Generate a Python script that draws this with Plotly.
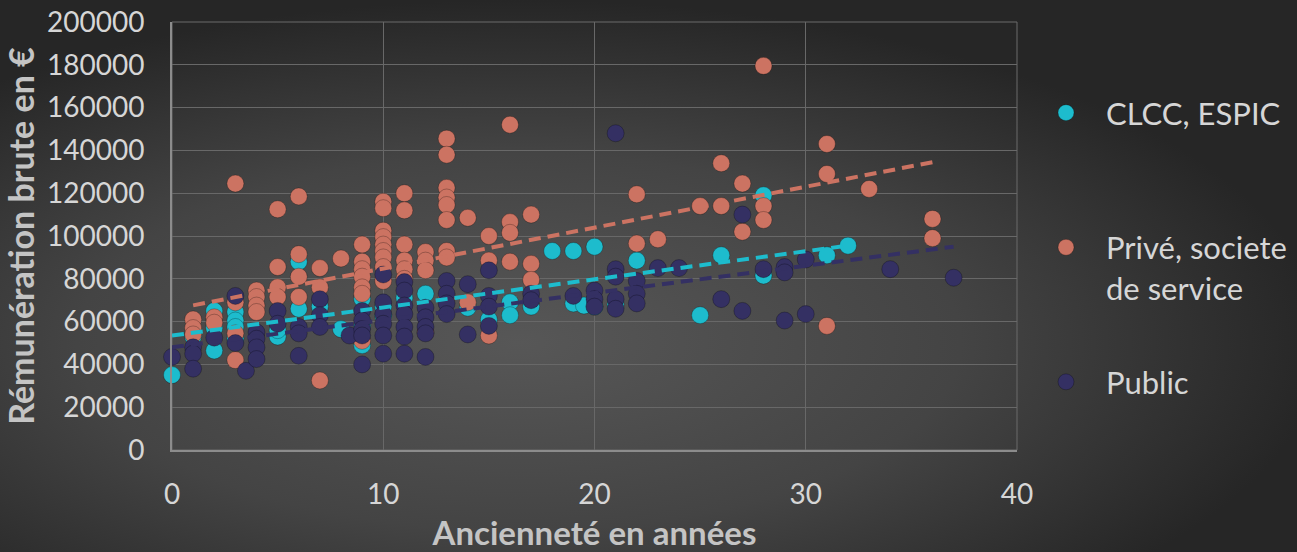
import base64
import plotly.graph_objects as go

# ---------------- data ----------------
clcc_x = [0, 1, 2, 2, 2, 3, 3, 3, 3, 5, 5, 6, 6, 7, 8, 9, 9, 9, 10, 10, 11, 12,
          14, 15, 16, 16, 17, 18, 19, 19, 19.5, 20, 20, 21, 22, 25, 26, 28, 28, 31, 32]
clcc_y = [35000, 53000, 65000, 57000, 46500, 64500, 60500, 57500, 52000, 53000, 56000,
          88000, 66000, 67000, 56500, 70700, 58000, 49000, 63000, 67000, 71000, 73000,
          66500, 61000, 69000, 63000, 67000, 93000, 93000, 68500, 67500, 95000, 67000,
          68000, 88500, 63000, 91000, 119000, 81500, 91000, 95500]

prive_x = [1, 1, 1, 2, 2, 3, 3, 3, 3, 4, 4, 4, 4, 5, 5, 5, 5, 6, 6, 6, 6, 7, 7, 7, 8,
           9, 9, 9, 9, 9, 9, 9, 10, 10, 10, 10, 10, 10, 10, 10, 10,
           11, 11, 11, 11, 11, 11, 12, 12, 12, 12,
           13, 13, 13, 13, 13, 13, 13, 13, 13, 14, 14, 15, 15, 15, 16, 16, 16, 16,
           17, 17, 17, 22, 22, 23, 25, 26, 26, 27, 27, 28, 28, 28, 31, 31, 31, 33, 36, 36]
prive_y = [61000, 57000, 54000, 62000, 59500, 124500, 69000, 54500, 42000,
           74500, 71500, 67500, 64500, 112500, 85500, 76000, 71500,
           118500, 91500, 81000, 71500, 85000, 76000, 32500, 89500,
           96000, 88000, 84500, 81000, 76000, 73000, 51000,
           116000, 113000, 102500, 99500, 96000, 93000, 90000, 85500, 79000,
           120000, 112000, 96000, 88500, 84500, 80000, 92500, 88500, 84000, 55000,
           145500, 138000, 122500, 118000, 114500, 107500, 93000, 90000, 71500,
           108500, 69000, 100000, 88500, 53500, 152000, 106500, 101500, 88000,
           110000, 87000, 79500, 119500, 96500, 98500, 114000, 134000, 114000,
           124500, 102000, 179500, 114000, 107500, 143000, 129000, 58000, 122000,
           108000, 99000]

public_x = [0, 1, 1, 1, 2, 3, 3, 3.5, 4, 4, 4, 4, 5, 5, 6, 6, 6, 7, 7, 7, 8.4,
            9, 9, 9, 9, 9, 10, 10, 10, 10, 10, 10, 11, 11, 11, 11, 11, 11, 11,
            12, 12, 12, 12, 12, 13, 13, 13, 13, 14, 14, 15, 15, 15, 15, 17, 17,
            19, 20, 20, 20, 21, 21, 21, 21, 21, 22, 22, 22, 23, 24, 26, 27, 27,
            28, 29, 29, 29, 30, 30, 34, 37]
public_y = [43500, 48000, 45000, 38000, 52500, 72000, 50000, 37000,
            55000, 52000, 48000, 42500, 65000, 59000, 57500, 54500, 44000,
            70500, 63000, 57500, 53500,
            65000, 60500, 56500, 53500, 40000,
            82000, 69000, 63500, 59000, 53500, 45000,
            78500, 74500, 67500, 63500, 57500, 53000, 45000,
            66500, 62000, 57500, 54500, 43500,
            79000, 73000, 68500, 63500, 77500, 54000,
            84000, 72000, 67000, 58000, 73000, 70000,
            72000, 74500, 70500, 67000, 148000, 84500, 81000, 70500, 66000,
            79000, 73000, 68500, 85000, 85000, 70500, 110000, 65000,
            84500, 85500, 83000, 60500, 89000, 63500, 84500, 80500]

# trend lines (end points)
trend_clcc_x = [0, 32]
trend_clcc_y = [53500, 95500]
trend_prive_x = [1, 36]
trend_prive_y = [67600, 134500]
trend_public_x = [0, 37]
trend_public_y = [48000, 95000]

series_names = ["CLCC, ESPIC<br> ", "Privé, societe<br>de service", "Public"]
x_ticks = [0, 10, 20, 30, 40]
y_ticks = list(range(0, 200001, 20000))

# ---------------- style ----------------
C_CLCC = "#1dbccd"
C_PRIVE = "#cc7362"
C_PUBLIC = "#343063"
FONT = "Lato"
W, H = 1297, 552
ML, MR, MT, MB = 172, 280, 22, 102
PW, PH = W - ML - MR, H - MT - MB

svg = f"""<svg xmlns='http://www.w3.org/2000/svg' width='{W}' height='{H}' viewBox='0 0 {W} {H}' preserveAspectRatio='none'>
<defs><radialGradient id='g' cx='0.40' cy='0.62' r='0.62' gradientUnits='objectBoundingBox'>
<stop offset='0' stop-color='#575757'/><stop offset='0.55' stop-color='#444444'/><stop offset='1' stop-color='#262626'/>
</radialGradient></defs><rect x='0' y='0' width='{W}' height='{H}' fill='url(#g)'/></svg>"""
bg_uri = "data:image/svg+xml;base64," + base64.b64encode(svg.encode()).decode()

fig = go.Figure()

def add_points(xs, ys, color, name, group):
    fig.add_trace(go.Scatter(
        x=xs, y=ys, mode="markers", name=name, legendgroup=group,
        cliponaxis=False,
        marker=dict(size=17, color=color,
                    line=dict(width=1, color="rgba(0,0,0,0.25)")),
    ))

add_points(clcc_x, clcc_y, C_CLCC, series_names[0], "a")
add_points(prive_x, prive_y, C_PRIVE, series_names[1], "b")
add_points(public_x, public_y, C_PUBLIC, series_names[2], "c")

for tx, ty, col in [(trend_clcc_x, trend_clcc_y, C_CLCC),
                    (trend_prive_x, trend_prive_y, C_PRIVE),
                    (trend_public_x, trend_public_y, C_PUBLIC)]:
    fig.add_trace(go.Scatter(x=tx, y=ty, mode="lines", showlegend=False,
                             hoverinfo="skip", cliponaxis=False,
                             line=dict(color=col, width=4, dash="12px,7px")))

fig.update_layout(
    width=W, height=H,
    margin=dict(l=ML, r=MR, t=MT, b=MB, pad=0, autoexpand=False),
    paper_bgcolor="#333333",
    plot_bgcolor="rgba(0,0,0,0)",
    font=dict(family=FONT, color="#d6d6d6", size=28),
    images=[dict(source=bg_uri, xref="paper", yref="paper",
                 x=-ML / PW, y=1 + MT / PH, sizex=W / PW, sizey=H / PH,
                 xanchor="left", yanchor="top", sizing="stretch", layer="below")],
    legend=dict(xref="container", yref="container", x=1026 / W, y=1 - 86 / H,
                xanchor="left", yanchor="top", bgcolor="rgba(0,0,0,0)",
                font=dict(family=FONT, size=31, color="#d6d6d6"),
                tracegroupgap=51, valign="top", itemwidth=70, maxheight=1),
    showlegend=True,
)

fig.update_xaxes(
    range=[0, 40], tickvals=x_ticks, ticktext=[str(v) for v in x_ticks],
    showgrid=True, gridcolor="#686868", gridwidth=1,
    showline=True, linecolor="#8c8c8c", linewidth=2, mirror=False,
    zeroline=False, ticks="", ticklabelstandoff=18,
    tickfont=dict(family=FONT, size=28, color="#d6d6d6"),
    title=dict(text="<b>Ancienneté en années</b>", standoff=22,
               font=dict(family=FONT, size=33, color="#c4c4c4")),
)
fig.update_yaxes(
    range=[0, 200000], tickvals=y_ticks, ticktext=[str(v) for v in y_ticks],
    showgrid=True, gridcolor="#686868", gridwidth=1,
    showline=True, linecolor="#8c8c8c", linewidth=2,
    zeroline=False, ticks="", ticklabelstandoff=20,
    tickfont=dict(family=FONT, size=28, color="#d6d6d6"),
    title=dict(text="<b>Rémunération brute en €</b>", standoff=10,
               font=dict(family=FONT, size=34, color="#c4c4c4")),
)
fig.add_shape(type="rect", xref="paper", yref="paper", x0=0, y0=0, x1=1, y1=1,
              line=dict(color="#6a6a6a", width=1), layer="below")

fig.write_html("out.html", config={"displayModeBar": False},
               post_script="document.body.style.margin='0';document.body.style.background='#2b2b2b';")
